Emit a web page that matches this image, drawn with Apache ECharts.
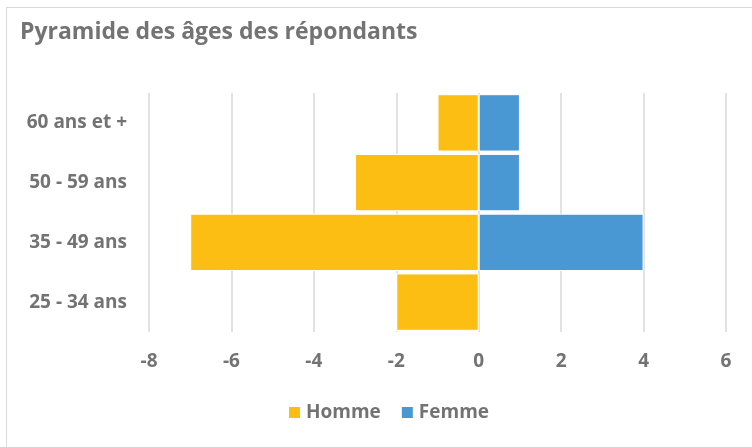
<!DOCTYPE html>
<html>
<head>
<meta charset="utf-8">
<script src="https://cdn.jsdelivr.net/npm/echarts@6/dist/echarts.min.js"></script>
<style>
  html, body { margin: 0; padding: 0; background: #fff; }
  #cadre { position: absolute; left: 6px; top: 7px; width: 760px; height: 460px; border: 1px solid #d9d9d9; box-sizing: border-box; }
  #graphique { width: 752px; height: 447px; }
</style>
</head>
<body>
<div id="cadre"></div>
<div id="graphique"></div>
<script>
// données
const tranches = ["25 - 34 ans", "35 - 49 ans", "50 - 59 ans", "60 ans et +"];
const hommes = [-2, -7, -3, -1];
const femmes = [0, 4, 1, 1];
const graduations = [-8, -6, -4, -2, 0, 2, 4, 6];

const police = "'Open Sans', 'Noto Sans', sans-serif";
const gris = "#737373";

const myChart = echarts.init(document.getElementById("graphique"), null, { renderer: "canvas" });

const option = {
  backgroundColor: "transparent",
  animation: false,
  title: {
    text: "Pyramide des âges des répondants",
    left: 15,
    top: 16,
    textStyle: { color: gris, fontSize: 23, fontWeight: "bold", fontFamily: police },
  },
  legend: {
    data: ["Homme", "Femme"],
    bottom: 20,
    left: 282,
    itemWidth: 13,
    itemHeight: 13,
    itemGap: 19,
    icon: "rect",
    textStyle: { color: gris, fontSize: 19, fontWeight: "bold", fontFamily: police },
  },
  grid: { left: 149, right: 26, top: 93, bottom: 115, containLabel: false },
  xAxis: {
    type: "value",
    min: graduations[0],
    max: graduations[graduations.length - 1],
    interval: 2,
    axisLine: { show: false },
    axisTick: { show: false },
    splitLine: { lineStyle: { color: "#d9d9d9", width: 1.5 } },
    axisLabel: { color: gris, fontSize: 19, fontWeight: "bold", fontFamily: police, margin: 20 },
  },
  yAxis: {
    type: "category",
    data: tranches,
    axisLine: { show: false },
    axisTick: { show: false },
    axisLabel: { color: gris, fontSize: 19, fontWeight: "bold", fontFamily: police, margin: 22 },
  },
  series: [
    {
      name: "Homme",
      type: "bar",
      stack: "total",
      data: hommes,
      barCategoryGap: "4%",
      itemStyle: { color: "#FDBE14", borderColor: "#fff", borderWidth: 1 },
    },
    {
      name: "Femme",
      type: "bar",
      stack: "total",
      data: femmes,
      barCategoryGap: "4%",
      itemStyle: { color: "#4A98D3", borderColor: "#fff", borderWidth: 1 },
    },
  ],
};

myChart.setOption(option);
</script>
</body>
</html>
